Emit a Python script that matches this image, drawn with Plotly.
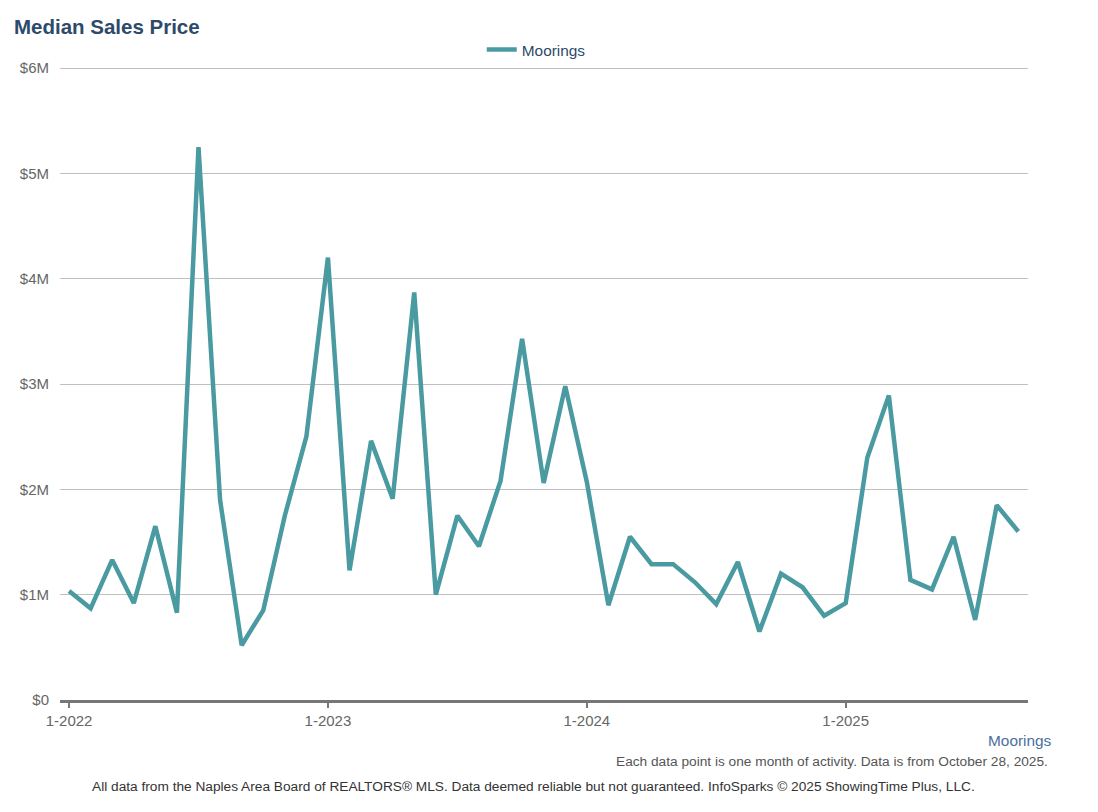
import plotly.graph_objects as go

months = [f"{m}-{y}" for y in range(2022, 2026) for m in range(1, 13)][:45]
prices = [1.035, 0.87, 1.33, 0.92, 1.65, 0.83, 5.25, 1.90, 0.52, 0.85, 1.75, 2.50,
          4.20, 1.23, 2.46, 1.91, 3.87, 1.00, 1.75, 1.46, 2.08, 3.43, 2.06, 2.98,
          2.07, 0.90, 1.55, 1.29, 1.29, 1.12, 0.91, 1.31, 0.65, 1.20, 1.07, 0.80,
          0.92, 2.30, 2.89, 1.14, 1.05, 1.55, 0.76, 1.85, 1.60]
prices = [p * 1e6 for p in prices]
x_idx = list(range(len(months)))
tick_vals = [0, 12, 24, 36]
tick_text = ["1-2022", "1-2023", "1-2024", "1-2025"]
y_ticks = [0, 1e6, 2e6, 3e6, 4e6, 5e6, 6e6]
y_text = ["$0", "$1M", "$2M", "$3M", "$4M", "$5M", "$6M"]

font = "Liberation Sans, Arial, sans-serif"
fig = go.Figure()
fig.add_trace(go.Scatter(x=x_idx, y=prices, mode="lines", name="Moorings",
                         line=dict(color="#4a9aa1", width=4.5),
                         customdata=months,
                         hovertemplate="%{customdata}: %{y:$,.0f}<extra></extra>"))

fig.update_layout(
    width=1098, height=812,
    margin=dict(l=60, r=70, t=67, b=112),
    plot_bgcolor="white", paper_bgcolor="white",
    font=dict(family=font, color="#666666", size=15),
    title=dict(text="<b>Median Sales Price</b>", x=0.0127, xanchor="left",
               y=0.967, yanchor="middle",
               font=dict(family=font, size=20.5, color="#2d4a6b")),
    showlegend=True,
    legend=dict(orientation="h", x=0.492, xanchor="center", y=1.0, yanchor="bottom",
                font=dict(family=font, size=15.4, color="#2d4a6b"),
                itemwidth=30),
    xaxis=dict(range=[-0.42, 44.45], tickmode="array", tickvals=tick_vals,
               ticktext=tick_text, showgrid=False, zeroline=False,
               showline=True, linecolor="#777777", linewidth=3,
               ticks="outside", ticklen=5, tickwidth=2, tickcolor="#777777",
               tickfont=dict(size=15, color="#666666")),
    yaxis=dict(range=[0, 6.01e6], tickmode="array", tickvals=y_ticks, ticktext=y_text,
               showgrid=True, gridcolor="#c0c0c0", gridwidth=1, zeroline=False,
               showline=False, ticks="", ticklabelstandoff=10,
               tickfont=dict(size=15, color="#666666")),
)

fig.add_annotation(text="Moorings", xref="paper", yref="paper", x=1.0269, y=-0.0633,
                   xanchor="right", yanchor="middle", showarrow=False,
                   font=dict(family=font, size=15.4, color="#4a6fa0"))
fig.add_annotation(text="Each data point is one month of activity. Data is from October 28, 2025.",
                   xref="paper", yref="paper", x=1.0227, y=-0.0965,
                   xanchor="right", yanchor="middle", showarrow=False,
                   font=dict(family=font, size=13.7, color="#555555"))
fig.add_annotation(text="All data from the Naples Area Board of REALTORS® MLS. Data deemed reliable but not guaranteed. InfoSparks © 2025 ShowingTime Plus, LLC.",
                   xref="paper", yref="paper", x=0.489, y=-0.136,
                   xanchor="center", yanchor="middle", showarrow=False,
                   font=dict(family=font, size=13.7, color="#333333"))

fig.write_html("out.html")
